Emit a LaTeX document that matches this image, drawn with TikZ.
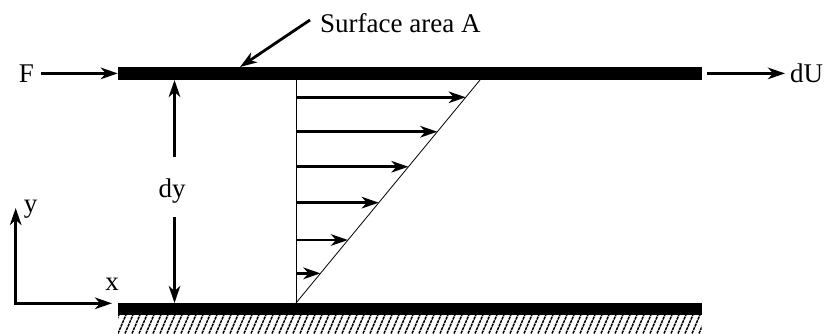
\documentclass[tikz,border=0pt]{standalone}
\usepackage{fontspec}
\setmainfont{Liberation Serif}
\usetikzlibrary{arrows.meta,calc}
\begin{document}
\begin{tikzpicture}[x=1pt,y=-1pt,
  lbl/.style={font=\fontsize{27}{30}\selectfont, inner sep=0pt},
  plate/.style={fill=black, inner sep=0pt, minimum width=583.7pt},
  bigarrow/.style={line width=2.8pt, -{Stealth[length=17pt,width=11.5pt,inset=5pt]}},
  thinline/.style={line width=0.8pt},
  hatchline/.style={line width=1.5pt, dash pattern=on 3pt off 0.8pt}]
\useasboundingbox (0,0) rectangle (830,334);
% plates
\node[plate, minimum height=13pt] (top) at (409.85,73.4) {};
\node[plate, minimum height=11.7pt] (bot) at (409.85,308.9) {};
% hatch under bottom plate
\begin{scope}
  \clip (118,314.7) rectangle (701.7,333.5);
  \foreach \x in {104,111,...,715} \draw[hatchline] (\x,333.5) -- (\x+8,314.7);
\end{scope}
% labels
\node[lbl] (F) at (26.5,73.4) {F};
\node[lbl, anchor=west] (dU) at (790,73.4) {dU};
\node[lbl, anchor=base west] (SA) at (320,33) {Surface area A};
\node[lbl, anchor=base] (dy) at (172,197) {dy};
\node[lbl, anchor=base] (ylab) at (30.5,212) {y};
\node[lbl, anchor=base] (xlab) at (112,290) {x};
% force and velocity arrows on the top plate
\coordinate (Ftail) at (41,73.4);
\draw[bigarrow] (Ftail) -- (top.west);
\coordinate (dUtail) at (707,73.4);
\coordinate (dUtip) at (785,73.4);
\draw[bigarrow] (dUtail) -- (dUtip);
\coordinate (SAtail) at (310,20);
\coordinate (SAtip) at (240,67);
\draw[bigarrow] (SAtail) -- (SAtip);
% dy arrows
\coordinate (dyup) at (174.5,157);
\coordinate (dyuptip) at (174.5,80);
\coordinate (dydown) at (174.5,217);
\coordinate (dydowntip) at (174.5,303);
\draw[bigarrow] (dyup) -- (dyuptip);
\draw[bigarrow] (dydown) -- (dydowntip);
% axes
\coordinate (O) at (15.7,304.7);
\coordinate (Ytip) at (15.7,208);
\coordinate (O2) at (14.3,303.3);
\coordinate (Xtip) at (112,303.3);
\draw[bigarrow] (O) -- (Ytip);
\draw[bigarrow] (O2) -- (Xtip);
% velocity profile
\coordinate (p0) at (296,303);
\coordinate (p1) at (480,80);
\coordinate (p2) at (296,80);
\draw[thinline] (p0) -- (p2);
\draw[thinline] (p0) -- (p1);
\foreach \t in {0.9225,0.768,0.611,0.450,0.2825,0.133}
  \draw[bigarrow] ($(p0)!\t!(p2)$) -- ($(p0)!\t!(p1)$);
\end{tikzpicture}
\end{document}
